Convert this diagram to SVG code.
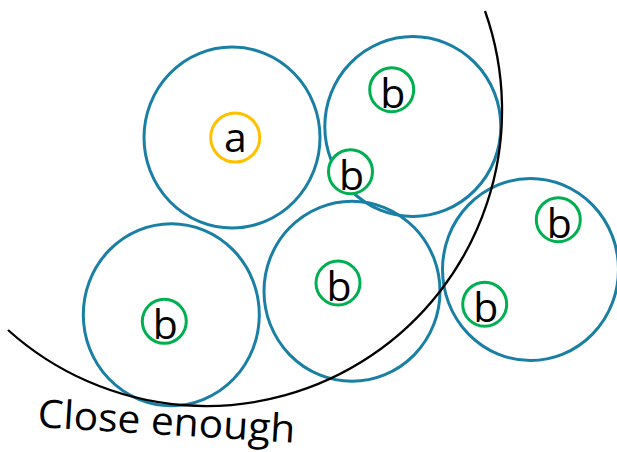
<svg xmlns="http://www.w3.org/2000/svg" width="617" height="452" viewBox="0 0 617 452">
  <style>
    .big { fill: none; stroke: #1a7fa5; stroke-width: 3; }
    .grn { fill: #ffffff; stroke: #00b050; stroke-width: 3; }
    .yel { fill: #ffffff; stroke: #ffc000; stroke-width: 3; }
    .lbl { font-family: "Open Sans", "Liberation Sans", sans-serif; font-size: 41px; fill: #000000; text-anchor: middle; }
    .cap { font-family: "Open Sans", "Liberation Sans", sans-serif; font-size: 39px; fill: #000000; }
  </style>
  <rect x="0" y="0" width="617" height="452" fill="#ffffff"/>
  <g id="regions">
    <ellipse id="region1" class="big" cx="232" cy="137.5" rx="88" ry="90.5"/>
    <ellipse id="region2" class="big" cx="412.8" cy="126.5" rx="88" ry="90"/>
    <ellipse id="region3" class="big" cx="171.3" cy="314.7" rx="88" ry="91"/>
    <ellipse id="region4" class="big" cx="352" cy="291.2" rx="88" ry="90"/>
    <ellipse id="region5" class="big" cx="530.5" cy="269.5" rx="88" ry="91"/>
  </g>
  <g id="connectors">
    <path id="boundary" d="M 8 330 A 296 296 0 0 0 485 11" fill="none" stroke="#000000" stroke-width="2.3"/>
  </g>
  <g id="node-a">
    <circle class="yel" cx="235.2" cy="137.5" r="24.5"/>
    <text class="lbl" x="235.5" y="152">a</text>
  </g>
  <g id="node-b1">
    <circle class="grn" cx="391.7" cy="89.7" r="22"/>
    <text class="lbl" x="392.7" y="107.5">b</text>
  </g>
  <g id="node-b2">
    <circle class="grn" cx="350.5" cy="171.7" r="22"/>
    <text class="lbl" x="351.5" y="189.5">b</text>
  </g>
  <g id="node-b3">
    <circle class="grn" cx="558.3" cy="219.7" r="22"/>
    <text class="lbl" x="559.3" y="237.5">b</text>
  </g>
  <g id="node-b4">
    <circle class="grn" cx="338" cy="283" r="22"/>
    <text class="lbl" x="339" y="300.5">b</text>
  </g>
  <g id="node-b5">
    <circle class="grn" cx="484.7" cy="304.2" r="22"/>
    <text class="lbl" x="485.7" y="322">b</text>
  </g>
  <g id="node-b6">
    <circle class="grn" cx="164.3" cy="321.3" r="22"/>
    <text class="lbl" x="165.3" y="338.7">b</text>
  </g>
  <g id="caption">
    <text class="cap" x="37" y="427" transform="rotate(3.5 37 427)" textLength="258" lengthAdjust="spacingAndGlyphs">Close enough</text>
  </g>
</svg>
